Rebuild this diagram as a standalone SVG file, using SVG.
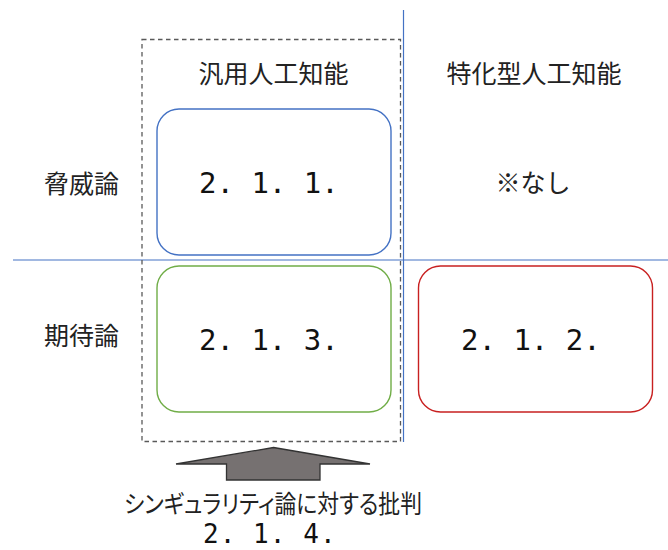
<svg xmlns="http://www.w3.org/2000/svg" width="668" height="550" viewBox="0 0 668 550">
<style>
.lbl{font-family:"Noto Sans CJK JP","Noto Sans",sans-serif;font-size:25px;fill:#222;text-anchor:middle}
.num{font-family:"DejaVu Sans Mono","Liberation Mono",monospace;font-size:29px;fill:#111;white-space:pre}
.box{fill:#fff;stroke-width:1.4}
.axis{stroke:#4472c4;stroke-width:1.2}
</style>
<rect width="668" height="550" fill="#fff"/>
<g id="axes">
<line class="axis" x1="13" y1="260" x2="668" y2="260"/>
<line class="axis" x1="403.5" y1="10" x2="403.5" y2="442" stroke="#8eaadb"/>
</g>
<g id="general-ai-group">
<rect x="142" y="39.5" width="258.5" height="402" fill="none" stroke="#595959" stroke-width="1.3" stroke-dasharray="4.5,3.5"/>
<text class="lbl" x="273.5" y="83">汎用人工知能</text>
</g>
<g id="narrow-ai-label"><text class="lbl" x="534" y="83">特化型人工知能</text></g>
<g id="threat-label"><text class="lbl" x="81.5" y="193">脅威論</text></g>
<g id="hope-label"><text class="lbl" x="81.5" y="345">期待論</text></g>
<g id="none-label"><text class="lbl" x="533" y="192">※なし</text></g>
<g id="n211">
<rect class="box" x="157" y="109" width="234" height="146" rx="22" stroke="#4472c4"/>
<text class="num" x="199" y="193">2. 1. 1.</text>
</g>
<g id="n213">
<rect class="box" x="157" y="266" width="234" height="146" rx="22" stroke="#70ad47"/>
<text class="num" x="199" y="349.5">2. 1. 3.</text>
</g>
<g id="n212">
<rect class="box" x="418.5" y="266" width="234" height="146" rx="22" stroke="#c82020"/>
<text class="num" x="461" y="349.5">2. 1. 2.</text>
</g>
<g id="connectors">
<polygon points="273.5,447.5 370,464 320,464 320,480 226.5,480 226.5,464 176,464" fill="#767171" stroke="#333" stroke-width="1.3" stroke-linejoin="miter"/>
</g>
<g id="critique">
<text class="lbl" x="273" y="513" style="font-feature-settings:'palt';font-size:24.5px" textLength="298" lengthAdjust="spacingAndGlyphs">シンギュラリティ論に対する批判</text>
<text class="num" x="203" y="543" style="font-size:26px;letter-spacing:1.05px">2. 1. 4.</text>
</g>
</svg>
